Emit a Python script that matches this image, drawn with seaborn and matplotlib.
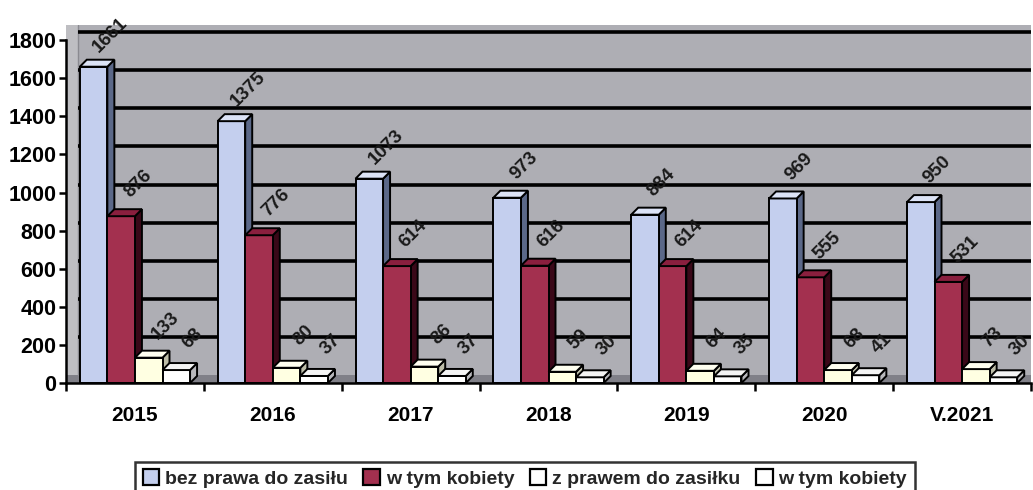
import numpy as np
import pandas as pd
import matplotlib
matplotlib.use('Agg')
import matplotlib.pyplot as plt
import seaborn as sns
from matplotlib.patches import Polygon, Rectangle, Patch
from matplotlib.transforms import IdentityTransform, offset_copy

# Data
years = ['2015', '2016', '2017', '2018', '2019', '2020', 'V.2021']
bez_prawa = [1661, 1375, 1073, 973, 884, 969, 950]
bez_prawa_kobiety = [876, 776, 614, 616, 614, 555, 531]
z_prawem = [133, 80, 86, 59, 64, 68, 73]
z_prawem_kobiety = [68, 37, 37, 30, 35, 41, 30]

series_keys = ['bez', 'bez_k', 'z', 'z_k']
legend_labels = ['bez prawa do zasiłu', 'w tym kobiety', 'z prawem do zasiłku', 'w tym kobiety']
y_ticks = [0, 200, 400, 600, 800, 1000, 1200, 1400, 1600, 1800]

# Colours: front face, side face, top face
front = ['#C4CFEE', '#A3304F', '#FFFFE2', '#FFFFFF']
side = ['#5B6888', '#3A0818', '#BDBDA8', '#B8B8BC']
top = ['#DCE3F6', '#8A1F3E', '#FFFFF0', '#F4F4F4']
legend_colors = ['#C4CFEE', '#A3304F', '#FFFFFF', '#FFFFFF']

df = pd.DataFrame({
    'rok': years * 4,
    'liczba': bez_prawa + bez_prawa_kobiety + z_prawem + z_prawem_kobiety,
    'seria': np.repeat(series_keys, len(years)),
})

sns.set_style('white')
plt.rcParams['font.family'] = ['Liberation Sans', 'DejaVu Sans']

W, H = 1033, 490
fig = plt.figure(figsize=(W / 100, H / 100), dpi=100)
ax_left, ax_right, ax_bottom, ax_top = 66, 1031, 383, 25
ax = fig.add_axes([ax_left / W, 1 - ax_bottom / H,
                   (ax_right - ax_left) / W, (ax_bottom - ax_top) / H])
ax.set_facecolor('#AEAEB4')

sns.barplot(data=df, x='rok', y='liczba', hue='seria', hue_order=series_keys,
            palette=front, width=0.8, saturation=1, edgecolor='black',
            linewidth=1.4, legend=False, ax=ax)

ax.set_xlim(-0.5, len(years) - 0.5)
ax.set_ylim(0, 1880)
ax.set_yticks(y_ticks)
ax.set_xlabel('')
ax.set_ylabel('')

# walls of the 3D box
wall_px = 12
floor_px = 8
ax_w = ax_right - ax_left
ax_h = ax_bottom - ax_top
ax.add_patch(Rectangle((0, 0), wall_px / ax_w, 1, transform=ax.transAxes,
                       facecolor='#BEBEC2', edgecolor='none', zorder=0.5))
ax.add_patch(Rectangle((0, 0), 1, floor_px / ax_h, transform=ax.transAxes,
                       facecolor='#808088', edgecolor='none', zorder=0.6))
ax.plot([wall_px / ax_w] * 2, [floor_px / ax_h, 1], transform=ax.transAxes,
        color='#8A8A90', lw=1, zorder=0.7)

# gridlines on the back wall
grid_tr = offset_copy(ax.get_yaxis_transform(), fig=fig, x=0, y=floor_px, units='dots')
ax.hlines(y_ticks[1:], xmin=wall_px / ax_w, xmax=1, transform=grid_tr,
          color='black', lw=2.6, zorder=1)

# 3D faces of the bars
dx, dy = 7, 7
for i, cont in enumerate(ax.containers):
    for bar in cont:
        bar.set_zorder(3 + 2 * i)
        x0, x1 = bar.get_x(), bar.get_x() + bar.get_width()
        h = bar.get_height()
        (px0, py0), (px1, py1) = ax.transData.transform([(x0, 0), (x1, h)])
        side_poly = [(px1, py0), (px1, py1), (px1 + dx, py1 + dy), (px1 + dx, py0 + dy)]
        top_poly = [(px0, py1), (px1, py1), (px1 + dx, py1 + dy), (px0 + dx, py1 + dy)]
        ax.add_patch(Polygon(side_poly, closed=True, transform=IdentityTransform(),
                             facecolor=side[i], edgecolor='black', lw=1.4, zorder=2.9 + 2 * i))
        ax.add_patch(Polygon(top_poly, closed=True, transform=IdentityTransform(),
                             facecolor=top[i], edgecolor='black', lw=1.4, zorder=3.1 + 2 * i))
        ax.annotate(f'{int(h)}', xy=(bar.get_x() + bar.get_width() / 2, h),
                    xytext=(12, 23), textcoords='offset points', rotation=45,
                    ha='center', va='center', fontsize=13.5, fontweight='bold',
                    color='#1A1A1A', zorder=20)

# axes styling
for s in ['top', 'right']:
    ax.spines[s].set_visible(False)
ax.spines['left'].set_bounds(0, 1800)
ax.spines['left'].set_color('black')
ax.spines['left'].set_linewidth(1.8)
ax.spines['bottom'].set_color('black')
ax.spines['bottom'].set_linewidth(1.8)
ax.spines['left'].set_zorder(25)
ax.spines['bottom'].set_zorder(25)

ax.tick_params(axis='y', left=True, direction='out', length=5, width=1.8,
               pad=2, labelsize=15.5, colors='black')
ax.tick_params(axis='x', bottom=False, pad=13, labelsize=15, colors='black')
ax.set_xticks(np.arange(-0.5, len(years), 1), minor=True)
ax.tick_params(axis='x', which='minor', bottom=True, direction='out',
               length=6, width=1.8, color='black')
for lab in ax.get_xticklabels() + ax.get_yticklabels():
    lab.set_fontweight('bold')

handles = [Patch(facecolor=c, edgecolor='black', lw=1.6) for c in legend_colors]
leg = fig.legend(handles, legend_labels, loc='upper center',
                 bbox_to_anchor=(0.508, 1 - 452 / H), ncol=4, frameon=True,
                 fancybox=False, edgecolor='black',
                 prop={'weight': 'bold', 'size': 14},
                 handlelength=0.85, handleheight=0.85, handletextpad=0.3,
                 columnspacing=0.8, borderpad=0.4)
leg.get_frame().set_linewidth(1.8)

fig.savefig('out.png', dpi=100)
